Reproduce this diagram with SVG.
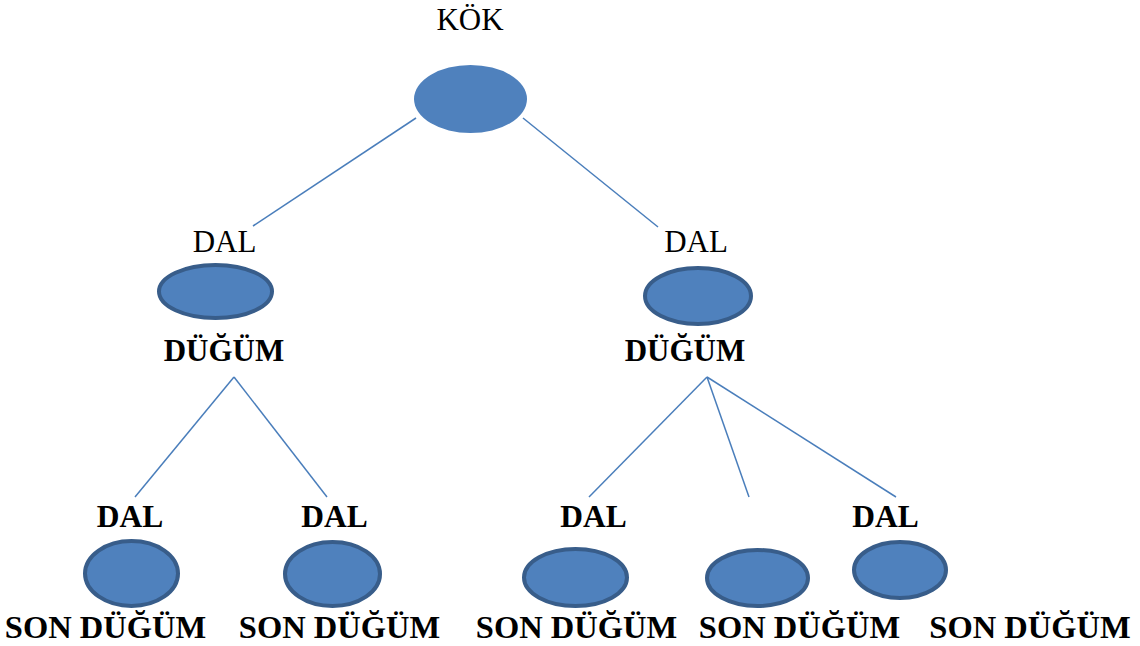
<svg xmlns="http://www.w3.org/2000/svg" width="1140" height="646" viewBox="0 0 1140 646">
<style>
.n{fill:#4f81bd;stroke:#385d8a;stroke-width:4}
.r{fill:#4f81bd}
.c line{stroke:#4a7ebb;stroke-width:1.5}
text{font-family:"Liberation Serif","Times New Roman",serif;font-size:31px;fill:#000;text-anchor:middle}
.b{font-weight:bold}
.s{font-weight:bold;font-size:31.5px}
.t{font-weight:bold;font-size:32.5px}
</style>
<rect width="1140" height="646" fill="#fff"/>
<g id="connectors" class="c">
<line x1="416" y1="118" x2="253" y2="226"/>
<line x1="523" y1="118" x2="658" y2="227"/>
<line x1="234" y1="377" x2="135" y2="497"/>
<line x1="234" y1="377" x2="327" y2="497"/>
<line x1="707" y1="377" x2="589" y2="497"/>
<line x1="707" y1="377" x2="749" y2="497"/>
<line x1="707" y1="377" x2="896" y2="497"/>
</g>
<g id="root">
<text x="470" y="30">KÖK</text>
<ellipse class="r" cx="470.5" cy="99" rx="56.5" ry="34"/>
</g>
<g id="branch-left">
<text x="224.5" y="252">DAL</text>
<ellipse class="n" cx="215.5" cy="291.5" rx="56.5" ry="26.5"/>
<text class="b" x="224" y="361">DÜĞÜM</text>
</g>
<g id="branch-right">
<text x="696" y="252">DAL</text>
<ellipse class="n" cx="698" cy="296" rx="53" ry="28"/>
<text class="b" x="685" y="361">DÜĞÜM</text>
</g>
<g id="leaf-1">
<text class="s" x="130" y="527">DAL</text>
<ellipse class="n" cx="131.5" cy="573.5" rx="46.5" ry="32.5"/>
<text class="t" x="105.5" y="638">SON DÜĞÜM</text>
</g>
<g id="leaf-2">
<text class="s" x="334.5" y="527">DAL</text>
<ellipse class="n" cx="332.5" cy="574" rx="47.5" ry="32"/>
<text class="t" x="339.5" y="638">SON DÜĞÜM</text>
</g>
<g id="leaf-3">
<text class="s" x="593.5" y="527">DAL</text>
<ellipse class="n" cx="575.5" cy="577.5" rx="51.5" ry="28.5"/>
<text class="t" x="576.5" y="638">SON DÜĞÜM</text>
</g>
<g id="leaf-4">
<ellipse class="n" cx="757.5" cy="578" rx="50.5" ry="28"/>
<text class="t" x="799.5" y="638">SON DÜĞÜM</text>
</g>
<g id="leaf-5">
<text class="s" x="885.5" y="527">DAL</text>
<ellipse class="n" cx="900" cy="570" rx="46" ry="28"/>
<text class="t" x="1030" y="638">SON DÜĞÜM</text>
</g>
</svg>
